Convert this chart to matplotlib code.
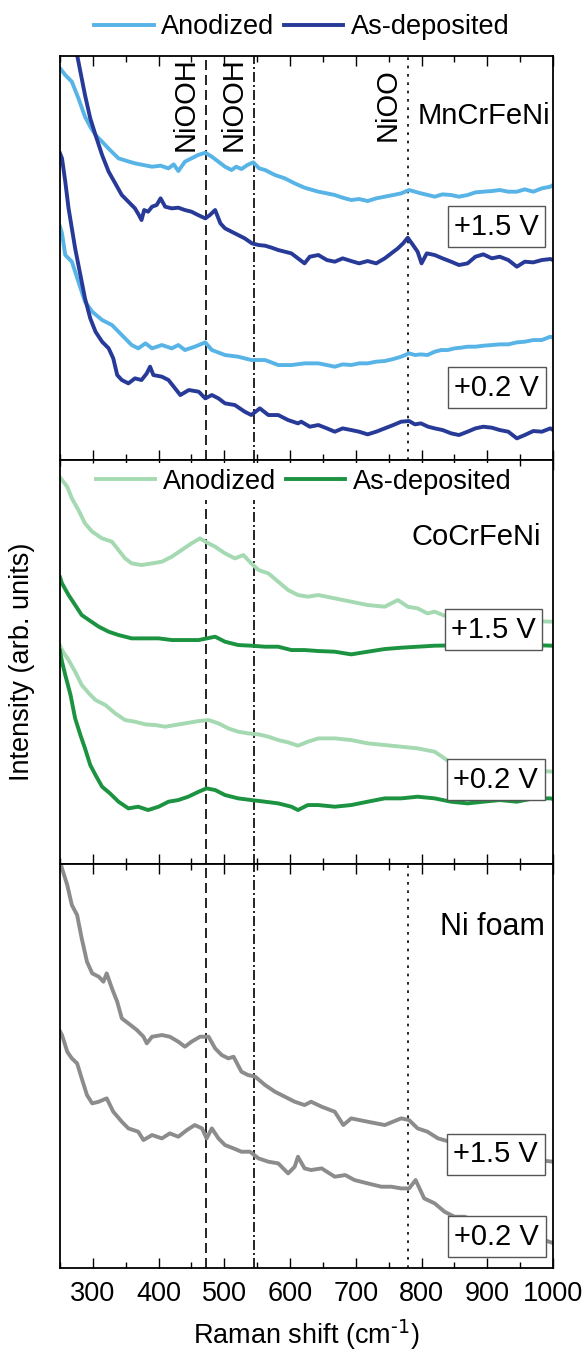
import matplotlib.pyplot as plt
from matplotlib.ticker import MultipleLocator

plt.rcParams['font.family'] = ['Liberation Sans', 'DejaVu Sans']
plt.rcParams['mathtext.default'] = 'regular'

# reference band positions (cm-1)
niooh_a = 472
niooh_b = 545
nioo = 780

# MnCrFeNi spectra
mn_an15_x = [250, 258, 268, 278, 288, 296, 304, 314, 326, 339, 352, 364, 377, 390, 403, 415, 423, 430, 440, 450,
             460, 471, 481, 491, 501, 511, 518, 526, 535, 544, 553, 562, 577, 592, 607, 622, 643, 656, 668, 680,
             693, 705, 718, 731, 744, 757, 769, 781, 790, 799, 810, 820, 832, 845, 857, 870, 882, 894, 907, 919,
             932, 945, 957, 970, 983, 996, 1000]
mn_an15_y = [117.5, 115.5, 113.5, 108.5, 103, 100, 97.5, 95.5, 93, 90.5, 89.7, 89, 88.5, 88, 88.3, 87.5, 88.7, 86.7, 89.5, 90.5,
             91.5, 92.2, 91, 89.5, 88, 87, 88, 87.3, 88.5, 89.3, 87.5, 87, 85.5, 84.5, 83, 81.7, 80.5, 80, 79.5, 78.7,
             78, 78.3, 77.7, 78.5, 79, 79.5, 80, 81, 80.5, 80, 79.5, 79, 79.7, 79.5, 79, 79.5, 80.3, 80.5, 80.7, 81,
             80.5, 80.5, 81.2, 80.5, 81.5, 82, 82.5]
mn_as15_x = [268, 276, 288, 296, 304, 314, 324, 334, 344, 354, 364, 370, 374, 378, 384, 390, 397, 403, 410, 420,
             430, 440, 450, 460, 471, 478, 486, 494, 501, 511, 521, 531, 542, 552, 562, 572, 582, 592, 602, 612,
             622, 630, 643, 656, 668, 680, 693, 705, 718, 731, 744, 754, 764, 772, 779, 787, 794, 800, 808, 820,
             832, 845, 857, 870, 882, 894, 907, 919, 932, 945, 957, 970, 983, 996, 1000]
mn_as15_y = [130, 121.5, 109.5, 102.5, 97.5, 91.5, 86.5, 83, 79.5, 77.5, 75.5, 73.5, 72, 75, 74.5, 76, 76.5, 78.5, 76, 75.5,
             75.7, 75, 74.5, 73.5, 72.5, 73.5, 75, 71, 69.5, 68.5, 67.5, 66.5, 65, 64.5, 64.3, 63.7, 63, 62.5, 62, 60.5,
             59, 61, 61.5, 60, 59.5, 60.5, 59.7, 59, 59.7, 59, 60.5, 62, 63.5, 65, 66.7, 64.5, 62.5, 59, 62, 61.5,
             60.5, 59.5, 58.5, 59, 61, 61.7, 60.5, 61, 60, 58, 59.5, 59.3, 60, 60.3, 60]
mn_an02_x = [250, 253, 258, 268, 278, 288, 299, 314, 329, 344, 359, 369, 380, 390, 405, 420, 430, 440, 455, 471,
             481, 501, 521, 541, 562, 582, 602, 622, 643, 656, 668, 680, 693, 705, 718, 731, 744, 757, 769, 781,
             790, 799, 809, 820, 830, 840, 850, 860, 870, 882, 894, 907, 919, 932, 945, 957, 970, 983, 996, 1000]
mn_an02_y = [70, 68, 61.5, 59.5, 53.5, 47.5, 44.5, 42, 40.5, 37.5, 34.5, 33.5, 35, 33.5, 34.5, 33.5, 34.5, 33, 34, 35.3,
             33, 31.5, 31, 30, 30, 28.5, 28.5, 29, 29, 28.5, 28, 28.7, 28.5, 29, 29, 29.5, 29.7, 30.3, 31, 32,
             31.5, 31.7, 31.5, 32.5, 33, 33, 33.5, 33.7, 34, 34, 34.3, 34.5, 34.7, 34.7, 35.3, 35.5, 36, 36, 37, 36.7]
mn_as02_x = [250, 253, 258, 263, 268, 273, 278, 283, 288, 296, 304, 314, 324, 331, 337, 344, 354, 364, 374, 382,
             387, 392, 405, 415, 425, 433, 446, 461, 471, 481, 491, 501, 516, 531, 541, 554, 567, 582, 597, 612,
             617, 630, 643, 656, 668, 680, 693, 705, 718, 731, 744, 757, 769, 781, 790, 799, 810, 820, 832, 845,
             857, 870, 882, 894, 907, 919, 932, 945, 957, 970, 983, 996, 1000]
mn_as02_y = [92, 90.5, 83.5, 75.5, 69.5, 63.5, 58.5, 53.5, 48.5, 42.5, 38.5, 35.5, 33.5, 30.5, 25.5, 24, 23, 24.5, 24, 26,
             28, 25.5, 25, 24, 21.5, 19.5, 21, 20.5, 18.5, 19.5, 18.5, 17, 16.5, 14.5, 13.5, 15.5, 13.5, 13.5, 12, 11,
             11.5, 10, 10.5, 9.5, 8.5, 9.5, 9, 8.5, 7.7, 8.5, 9.5, 10.5, 11.5, 11.7, 10.7, 11, 10, 9.5, 9, 8,
             7.5, 8.5, 9.5, 10, 9.7, 9, 8.5, 6.5, 7.5, 8.7, 8.5, 9.5, 9]

# CoCrFeNi spectra
co_an15_x = [250, 253, 261, 268, 278, 288, 299, 314, 329, 339, 349, 359, 374, 390, 405, 420, 435, 450, 463, 473,
             486, 501, 516, 529, 541, 552, 567, 582, 597, 612, 627, 643, 668, 693, 718, 744, 764, 779, 794, 809,
             820, 835, 850, 870, 900, 950, 1000]
co_an15_y = [116, 115.2, 113.2, 109.7, 106.2, 102.2, 99.7, 97.7, 96.7, 94.2, 91.7, 90.2, 89.7, 90.2, 90.7, 92.2, 94.2, 96.2, 97.7, 96.5,
             95.2, 93.2, 91.7, 92.7, 90.2, 88.2, 87.2, 84.7, 82.2, 80.7, 80.2, 80.7, 79.7, 78.7, 77.7, 77.2, 79.2, 77.2, 76.7, 75.2,
             75.7, 74.5, 74.8, 74, 73.5, 73, 72.7]
co_as15_x = [250, 253, 263, 273, 283, 294, 309, 324, 339, 359, 380, 400, 420, 440, 461, 486, 501, 521, 541, 562,
             582, 602, 622, 643, 668, 693, 718, 744, 769, 794, 820, 850, 900, 950, 1000]
co_as15_y = [86, 84.2, 80.7, 77.7, 74.7, 73.2, 71.2, 69.7, 68.7, 67.7, 67.7, 67.7, 67.2, 67.2, 67.2, 68.2, 66.7, 65.7, 65.5, 65.2,
             65.2, 64.2, 64.2, 63.9, 63.7, 62.9, 63.7, 64.5, 64.9, 65.2, 65.5, 65.6, 65.7, 65.8, 65.5]
co_an02_x = [250, 253, 263, 273, 283, 294, 304, 319, 334, 349, 364, 380, 395, 410, 425, 440, 461, 476, 491, 506,
             521, 536, 552, 567, 582, 597, 612, 627, 643, 668, 693, 718, 744, 769, 794, 820, 835, 850, 900, 950,
             1000]
co_an02_y = [65.5, 64.2, 61.2, 57.7, 53.7, 51.2, 49.2, 47.7, 45.2, 43.2, 42.7, 41.9, 41.7, 41.2, 41.7, 42.2, 42.9, 43.2, 42.2, 40.7,
             39.7, 39.2, 38.9, 38.2, 37.2, 36.5, 35.5, 36.7, 37.7, 37.7, 37.2, 36.2, 35.7, 35.2, 34.7, 33.7, 31.7, 29.7, 29, 28.3,
             27.7]
co_as02_x = [250, 253, 258, 266, 273, 281, 288, 296, 304, 314, 326, 339, 354, 369, 384, 400, 415, 430, 445, 461,
             473, 486, 501, 521, 541, 562, 582, 602, 612, 627, 643, 668, 693, 718, 744, 769, 794, 820, 845, 870,
             894, 919, 945, 970, 996, 1000]
co_as02_y = [64, 60.7, 56.7, 50.7, 43.7, 38.7, 34.7, 29.7, 26.7, 23.2, 21.2, 18.7, 16.7, 17.2, 16.2, 17.2, 18.7, 19.2, 20.2, 21.7,
             22.7, 22.2, 20.7, 19.7, 19.2, 18.7, 18.2, 17.2, 16.2, 17.7, 17.7, 17.2, 17.7, 18.7, 19.7, 19.7, 20.2, 19.7, 18.7, 18.2,
             18.7, 19.2, 18.7, 19.7, 19.7, 19.5]

# Ni foam spectra
ni15_x = [250, 253, 261, 268, 276, 283, 291, 299, 309, 316, 321, 329, 337, 344, 354, 367, 377, 382, 390, 405,
          417, 430, 440, 450, 463, 476, 486, 496, 506, 514, 526, 536, 547, 562, 577, 592, 607, 622, 632, 648,
          668, 681, 693, 718, 744, 769, 781, 794, 809, 825, 850, 900, 950, 1000]
ni15_y = [122, 119.9, 114.9, 108.9, 105.9, 98.9, 91.9, 88.4, 87.4, 85.9, 88.4, 83.9, 79.9, 74.9, 73.4, 71.4, 69.4, 67.4, 69.4, 69.9,
          69.4, 67.9, 66.4, 67.9, 69.4, 69.4, 65.9, 63.9, 62.9, 63.4, 58.9, 57.9, 57.4, 54.9, 52.9, 51.4, 49.9, 48.9, 49.9, 48.4,
          46.9, 42.9, 44.9, 43.9, 42.9, 44.9, 44.4, 41.9, 40.9, 38.9, 37.5, 35, 33, 31.9]
ni02_x = [250, 253, 261, 268, 276, 283, 291, 299, 309, 321, 331, 344, 354, 369, 377, 390, 405, 417, 430, 443,
          455, 466, 473, 481, 491, 501, 514, 526, 539, 552, 567, 582, 597, 607, 612, 622, 632, 648, 668, 684,
          698, 718, 739, 754, 769, 781, 791, 804, 820, 835, 850, 865, 900, 950, 985, 1000]
ni02_y = [71, 69.9, 64.9, 62.9, 61.4, 56.9, 51.9, 49.4, 49.9, 50.9, 46.9, 43.9, 41.9, 40.9, 38.4, 39.9, 38.9, 40.4, 39.4, 41.4,
          42.9, 41.9, 38.9, 41.9, 38.9, 36.9, 35.9, 34.9, 34.9, 32.9, 31.9, 31.4, 28.4, 30.4, 33.4, 29.9, 29.4, 29.9, 27.4, 27.9,
          26.4, 25.4, 24.4, 24.4, 23.9, 23.9, 26.4, 20.9, 19.4, 16.9, 15.4, 15.4, 13, 10.5, 8.5, 7.5]

c_mn_an = '#58b4e6'
c_mn_as = '#283a97'
c_co_an = '#a4d9b2'
c_co_as = '#1b9340'
c_ni = '#8c8c8c'
lw = 2.8
fs = 19.5

fig = plt.figure(figsize=(5.85, 13.5), dpi=100)
gs = fig.add_gridspec(3, 1, left=0.1026, right=0.9453, bottom=0.0607, top=0.9585, hspace=0)
ax1 = fig.add_subplot(gs[0])
ax2 = fig.add_subplot(gs[1], sharex=ax1)
ax3 = fig.add_subplot(gs[2], sharex=ax1)

l_an, = ax1.plot(mn_an15_x, mn_an15_y, color=c_mn_an, lw=lw, label='Anodized')
l_as, = ax1.plot(mn_as15_x, mn_as15_y, color=c_mn_as, lw=lw, label='As-deposited')
ax1.plot(mn_an02_x, mn_an02_y, color=c_mn_an, lw=lw)
ax1.plot(mn_as02_x, mn_as02_y, color=c_mn_as, lw=lw)

ax2.plot(co_an15_x, co_an15_y, color=c_co_an, lw=lw, label='Anodized')
ax2.plot(co_as15_x, co_as15_y, color=c_co_as, lw=lw, label='As-deposited')
ax2.plot(co_an02_x, co_an02_y, color=c_co_an, lw=lw)
ax2.plot(co_as02_x, co_as02_y, color=c_co_as, lw=lw)

ax3.plot(ni15_x, ni15_y, color=c_ni, lw=lw)
ax3.plot(ni02_x, ni02_y, color=c_ni, lw=lw)

# band markers
for ax in (ax1, ax2, ax3):
    ax.axvline(niooh_a, color='k', lw=1.2, dashes=(6, 3), zorder=1)
    ax.axvline(niooh_b, color='k', lw=1.2, dashes=(6, 1.8, 1.2, 1.8), zorder=1)
for ax in (ax1, ax3):
    ax.axvline(nioo, color='k', lw=1.2, dashes=(1.6, 3.4), zorder=1)

tr = ax1.get_xaxis_transform()
ax1.text(niooh_a - 10, 0.997, 'NiOOH', transform=tr, rotation=90, ha='right', va='top', fontsize=21)
ax1.text(niooh_b - 10, 0.997, 'NiOOH', transform=tr, rotation=90, ha='right', va='top', fontsize=21)
ax1.text(nioo - 10, 0.97, 'NiOO', transform=tr, rotation=90, ha='right', va='top', fontsize=21)

# sample names
ax1.text(0.994, 0.851, 'MnCrFeNi', transform=ax1.transAxes, ha='right', va='center', fontsize=21)
ax2.text(0.976, 0.81, 'CoCrFeNi', transform=ax2.transAxes, ha='right', va='center', fontsize=21)
ax3.text(0.984, 0.844, 'Ni foam', transform=ax3.transAxes, ha='right', va='center', fontsize=22)

# potential tags
box = dict(boxstyle='square,pad=0.22', fc='white', ec='#555555', lw=1.0)
tags = [(ax1, 0.885, 0.578, '+1.5 V'), (ax1, 0.886, 0.179, '+0.2 V'),
        (ax2, 0.879, 0.580, '+1.5 V'), (ax2, 0.884, 0.209, '+0.2 V'),
        (ax3, 0.884, 0.282, '+1.5 V'), (ax3, 0.886, 0.078, '+0.2 V')]
for ax, x, y, s in tags:
    ax.text(x, y, s, transform=ax.transAxes, ha='center', va='center', fontsize=21, bbox=box, zorder=6)

fig.legend(handles=[l_an, l_as], loc='center', bbox_to_anchor=(0.516, 0.98), ncol=2, frameon=False,
           fontsize=fs, handlelength=2.2, handletextpad=0.28, columnspacing=0.35)
leg2 = ax2.legend(loc='center', bbox_to_anchor=(0.494, 0.946), ncol=2, fontsize=fs,
                  handlelength=2.2, handletextpad=0.28, columnspacing=0.35,
                  frameon=True, facecolor='white', edgecolor='none', framealpha=1, borderpad=0.2)
leg2.set_zorder(8)

for ax in (ax1, ax2, ax3):
    ax.set_xlim(250, 1000)
    ax.set_ylim(0, 121.2)
    ax.xaxis.set_major_locator(MultipleLocator(100))
    ax.xaxis.set_minor_locator(MultipleLocator(50))
    ax.tick_params(which='both', direction='in', top=True, bottom=True, left=False, right=False,
                   labelleft=False, width=1.0)
    ax.tick_params(which='major', length=7)
    ax.tick_params(which='minor', length=4)
    for sp in ax.spines.values():
        sp.set_linewidth(1.3)
for ax in (ax1, ax2):
    ax.tick_params(labelbottom=False)
ax3.tick_params(axis='x', labelsize=fs, pad=9)
ax3.set_xlabel(r'Raman shift (cm$^{\text{-1}}$)', fontsize=fs, labelpad=8)
ax2.set_ylabel('Intensity (arb. units)', fontsize=fs, labelpad=18)

fig.savefig('out.png', dpi=100)
